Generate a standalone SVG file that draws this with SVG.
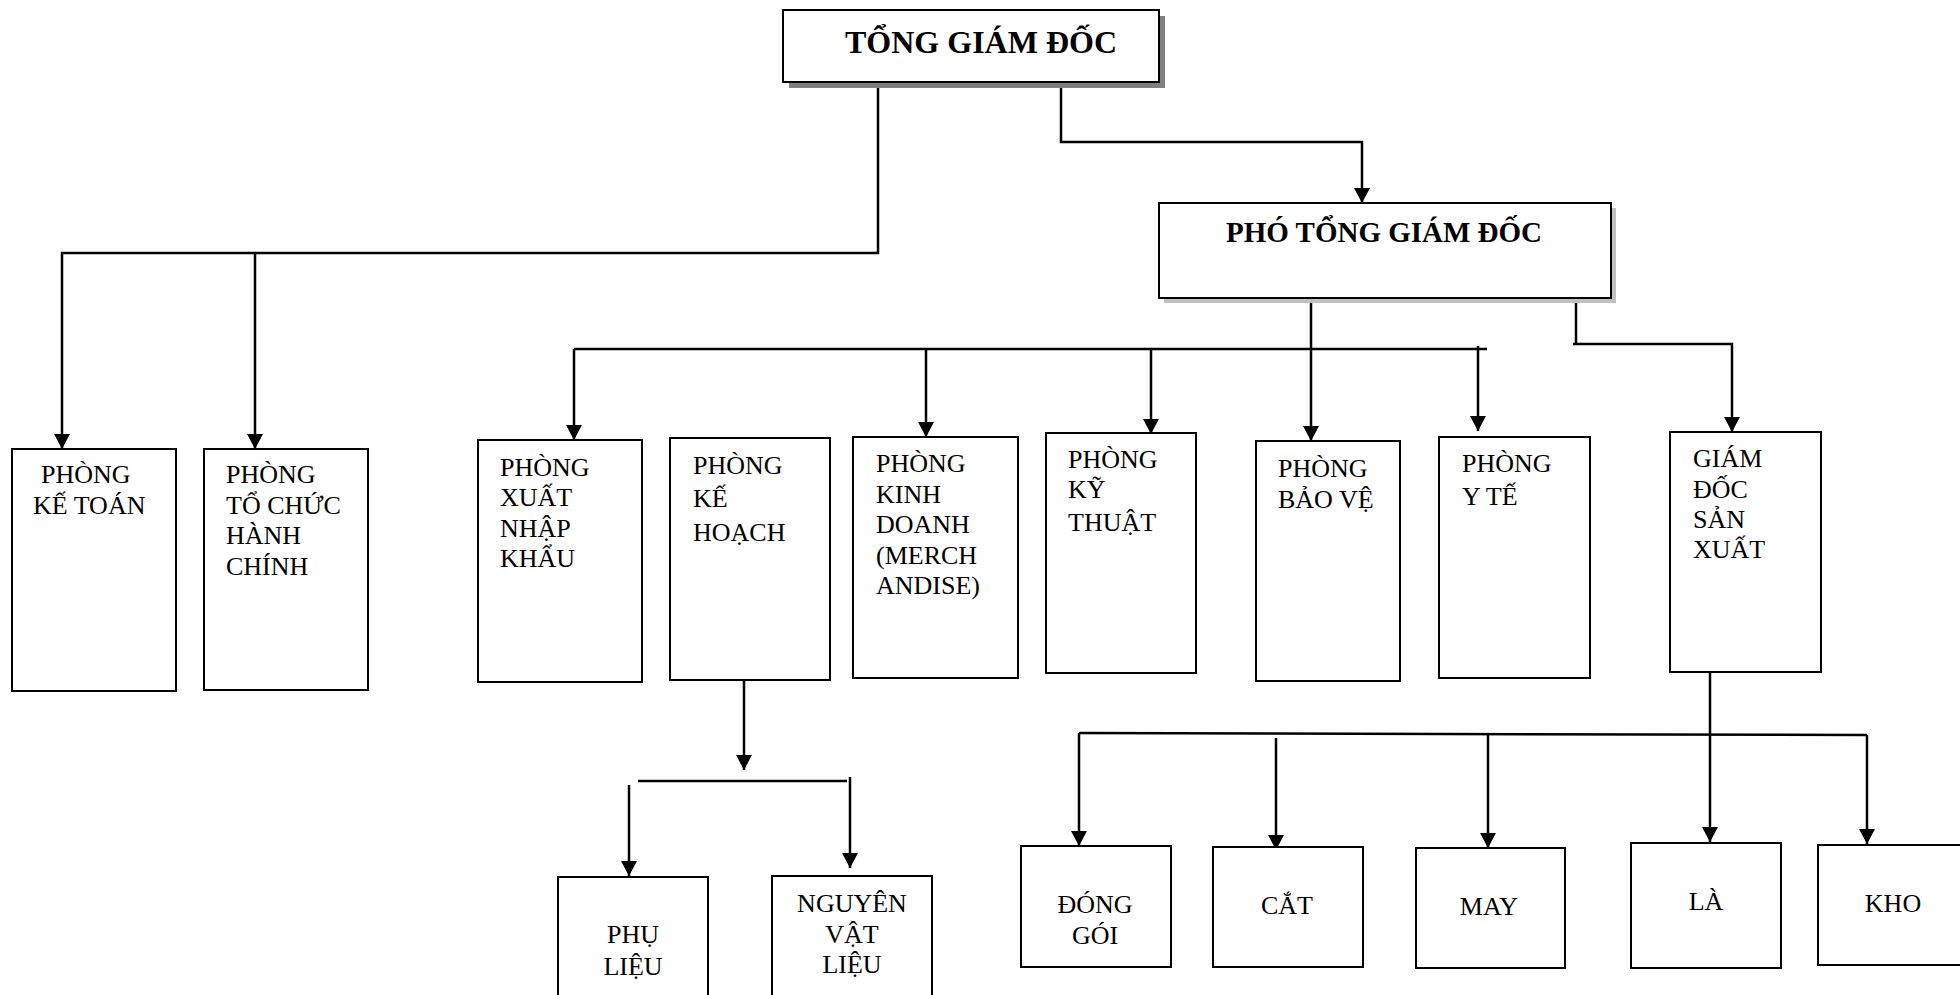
<svg xmlns="http://www.w3.org/2000/svg" width="1960" height="995" viewBox="0 0 1960 995">
<style>
.box{fill:#fff;stroke:#000;stroke-width:2}
.t{font-family:"Liberation Serif","Times New Roman",serif;font-size:26px;fill:#000}
.c{text-anchor:middle}
.h{font-family:"Liberation Serif","Times New Roman",serif;font-weight:bold;fill:#000}
.ln{fill:none;stroke:#000;stroke-width:2.5}
.ar{fill:none;stroke:#000;stroke-width:2.5;marker-end:url(#ah)}
</style>
<defs>
<marker id="ah" markerUnits="userSpaceOnUse" markerWidth="18" markerHeight="18" refX="15" refY="8" orient="auto">
<path d="M0,0 L15,8 L0,16 Z" fill="#000"/>
</marker>
</defs>
<rect width="1960" height="995" fill="#fff"/>

<g id="connectors">
<polyline class="ar" points="878,82 878,253 62,253 62,449"/>
<line class="ar" x1="255" y1="253" x2="255" y2="449"/>
<polyline class="ar" points="1061,87 1061,142 1362,142 1362,203"/>
<line class="ar" x1="1311" y1="298" x2="1311" y2="441"/>
<line class="ln" x1="574" y1="349" x2="1487" y2="349"/>
<line class="ar" x1="574" y1="349" x2="574" y2="440"/>
<line class="ar" x1="926" y1="349" x2="926" y2="437"/>
<line class="ar" x1="1151" y1="349" x2="1151" y2="434"/>
<line class="ar" x1="1478" y1="346" x2="1478" y2="431"/>
<polyline class="ln" points="1576,303 1576,344"/>
<polyline class="ar" points="1573,344 1732,344 1732,432"/>
<line class="ar" x1="744" y1="680" x2="744" y2="770"/>
<line class="ln" x1="638" y1="781" x2="847" y2="781"/>
<line class="ar" x1="629" y1="785" x2="629" y2="876"/>
<line class="ar" x1="850" y1="777" x2="850" y2="868"/>
<line class="ar" x1="1710" y1="669" x2="1710" y2="842"/>
<polyline class="ln" points="1079,733 1867,735"/>
<line class="ar" x1="1079" y1="733" x2="1079" y2="846"/>
<line class="ar" x1="1276" y1="738" x2="1276" y2="850"/>
<line class="ar" x1="1488" y1="734" x2="1488" y2="848"/>
<line class="ar" x1="1867" y1="735" x2="1867" y2="844"/>
</g>

<g id="tong-giam-doc">
<rect x="789" y="16" width="376" height="72" fill="#808080"/>
<rect class="box" x="783" y="10" width="376" height="72"/>
<text class="h" x="845" y="53" font-size="32">TỔNG GIÁM ĐỐC</text>
</g>

<g id="pho-tong-giam-doc">
<rect x="1164" y="208" width="452" height="95" fill="#c0c0c0"/>
<rect class="box" x="1159" y="203" width="452" height="95"/>
<text class="h" x="1226" y="242" font-size="29">PHÓ TỔNG GIÁM ĐỐC</text>
</g>

<g id="phong-ke-toan">
<rect class="box" x="12" y="449" width="164" height="242"/>
<text class="t" x="41" y="483">PHÒNG</text>
<text class="t" x="33" y="514">KẾ TOÁN</text>
</g>

<g id="phong-to-chuc-hanh-chinh">
<rect class="box" x="204" y="449" width="164" height="241"/>
<text class="t" x="226" y="483">PHÒNG</text>
<text class="t" x="226" y="514">TỔ CHỨC</text>
<text class="t" x="226" y="544">HÀNH</text>
<text class="t" x="226" y="575">CHÍNH</text>
</g>

<g id="phong-xuat-nhap-khau">
<rect class="box" x="478" y="440" width="164" height="242"/>
<text class="t" x="500" y="476">PHÒNG</text>
<text class="t" x="500" y="506">XUẤT</text>
<text class="t" x="500" y="537">NHẬP</text>
<text class="t" x="500" y="567">KHẨU</text>
</g>

<g id="phong-ke-hoach">
<rect class="box" x="670" y="438" width="160" height="242"/>
<text class="t" x="693" y="474" font-size="27">PHÒNG</text>
<text class="t" x="693" y="507" font-size="27">KẾ</text>
<text class="t" x="693" y="541" font-size="27">HOẠCH</text>
</g>

<g id="phong-kinh-doanh">
<rect class="box" x="853" y="437" width="165" height="241"/>
<text class="t" x="876" y="472">PHÒNG</text>
<text class="t" x="876" y="503">KINH</text>
<text class="t" x="876" y="533">DOANH</text>
<text class="t" x="876" y="564">(MERCH</text>
<text class="t" x="876" y="594">ANDISE)</text>
</g>

<g id="phong-ky-thuat">
<rect class="box" x="1046" y="433" width="150" height="240"/>
<text class="t" x="1068" y="468">PHÒNG</text>
<text class="t" x="1068" y="498">KỸ</text>
<text class="t" x="1068" y="531">THUẬT</text>
</g>

<g id="phong-bao-ve">
<rect class="box" x="1256" y="441" width="144" height="240"/>
<text class="t" x="1278" y="477">PHÒNG</text>
<text class="t" x="1278" y="508">BẢO VỆ</text>
</g>

<g id="phong-y-te">
<rect class="box" x="1439" y="437" width="151" height="241"/>
<text class="t" x="1462" y="472">PHÒNG</text>
<text class="t" x="1462" y="505">Y TẾ</text>
</g>

<g id="giam-doc-san-xuat">
<rect class="box" x="1670" y="432" width="151" height="240"/>
<text class="t" x="1693" y="467">GIÁM</text>
<text class="t" x="1693" y="498">ĐỐC</text>
<text class="t" x="1693" y="528">SẢN</text>
<text class="t" x="1693" y="558">XUẤT</text>
</g>

<g id="phu-lieu">
<rect class="box" x="558" y="877" width="150" height="130"/>
<text class="t c" x="633" y="943">PHỤ</text>
<text class="t c" x="633" y="975">LIỆU</text>
</g>

<g id="nguyen-vat-lieu">
<rect class="box" x="772" y="876" width="160" height="130"/>
<text class="t c" x="852" y="912">NGUYÊN</text>
<text class="t c" x="852" y="943">VẬT</text>
<text class="t c" x="852" y="973">LIỆU</text>
</g>

<g id="dong-goi">
<rect class="box" x="1021" y="846" width="150" height="121"/>
<text class="t c" x="1095" y="913">ĐÓNG</text>
<text class="t c" x="1095" y="944">GÓI</text>
</g>

<g id="cat">
<rect class="box" x="1213" y="847" width="150" height="120"/>
<text class="t c" x="1287" y="914">CẮT</text>
</g>

<g id="may">
<rect class="box" x="1416" y="848" width="149" height="120"/>
<text class="t c" x="1489" y="915">MAY</text>
</g>

<g id="la">
<rect class="box" x="1631" y="843" width="150" height="125"/>
<text class="t c" x="1706" y="910">LÀ</text>
</g>

<g id="kho">
<rect class="box" x="1818" y="845" width="160" height="120"/>
<text class="t c" x="1893" y="912">KHO</text>
</g>
</svg>
